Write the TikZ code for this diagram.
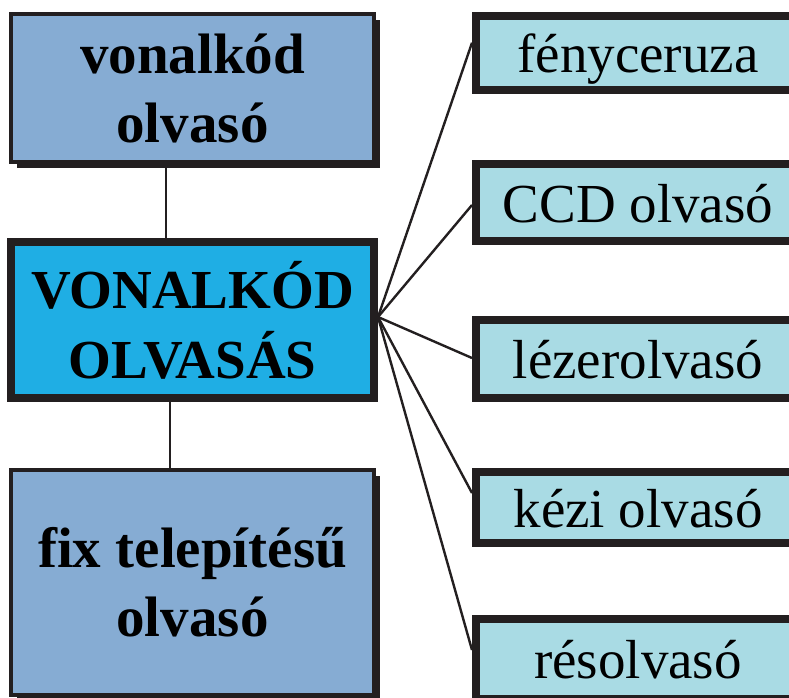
\documentclass[tikz,border=0pt]{standalone}
\usepackage{fontspec}
\setmainfont{Liberation Serif}
\usepackage{xcolor}
\usepackage{tikz}
\usetikzlibrary{shadows}

\definecolor{edge}{RGB}{35,31,32}
\definecolor{kindfill}{RGB}{134,172,211}
\definecolor{hubfill}{RGB}{31,174,228}
\definecolor{leaffill}{RGB}{169,219,228}

\begin{document}
\begin{tikzpicture}[
  x=1pt, y=-1pt,
  kind/.style={rectangle, draw=edge, line width=4pt, fill=kindfill,
               minimum width=363pt, align=center, inner sep=0pt,
               font=\fontsize{57}{69}\selectfont\bfseries,
               drop shadow={shadow xshift=6pt, shadow yshift=-6pt,
                            fill=edge, opacity=1}},
  hub/.style={rectangle, draw=edge, line width=8pt, fill=hubfill,
              minimum width=363pt, minimum height=156pt, align=center,
              inner sep=0pt, font=\fontsize{55}{70}\selectfont\bfseries},
  leaf/.style={rectangle, draw=edge, line width=8pt, fill=leaffill,
               minimum width=324pt, inner sep=0pt,
               text height=50pt, text depth=11pt,
               font=\fontsize{55}{66}\selectfont},
  link/.style={draw=edge, line width=2.4pt}
]
\useasboundingbox (0,0) rectangle (789,697);

% ---- Left column ----
\node[kind, minimum height=148pt] (vonal) at (192.5,88)    {vonalkód\\olvasó};
\node[hub]                        (olv)   at (192.5,320)   {VONALKÓD\\OLVASÁS};
\node[kind, minimum height=225pt] (fix)   at (192.5,582.5) {fix telepítésű\\olvasó};

\draw[link] ([xshift=-26.5pt]vonal.south) -- ([xshift=-26.5pt]olv.north);
\draw[link] ([xshift=-22.5pt]olv.south)   -- ([xshift=-22.5pt]fix.north);

% ---- Right column ----
\node[leaf, minimum height=73.5pt] (ceruza) at (638,52.75) {fényceruza};
\node[leaf, minimum height=77pt]   (ccd)    at (638,202.5) {CCD olvasó};
\node[leaf, minimum height=78pt]   (lezer)  at (638,359)   {lézerolvasó};
\node[leaf, minimum height=71pt]   (kezi)   at (638,507.5) {kézi olvasó};
\node[leaf, minimum height=80pt]   (res)    at (638,659)   {résolvasó};

% fan from the hub
\foreach \n/\s in {ceruza/10, ccd/-2.5, lezer/1, kezi/14.5, res/9}
  \draw[link] ([yshift=3pt]olv.east) -- ([yshift=\s pt]\n.west);

\end{tikzpicture}
\end{document}
